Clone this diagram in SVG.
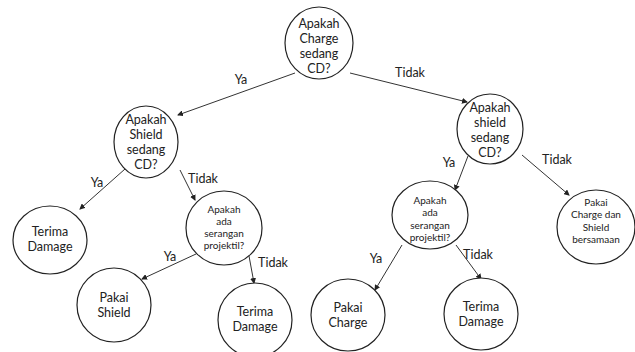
<svg xmlns="http://www.w3.org/2000/svg" width="635" height="352" viewBox="0 0 635 352">
<style>
.n{fill:#fff;stroke:#222;stroke-width:1.2}
.t{font-family:Lato,"Liberation Sans",Arial,sans-serif;font-size:12.5px;fill:#222;text-anchor:middle}
.s{font-family:Lato,"Liberation Sans",Arial,sans-serif;font-size:10px;fill:#222;text-anchor:middle}
.l{font-family:Lato,"Liberation Sans",Arial,sans-serif;font-size:12.5px;fill:#222;text-anchor:middle}
.c{stroke:#333;stroke-width:1;fill:none;marker-end:url(#a)}
</style>
<defs>
<marker id="a" markerWidth="6" markerHeight="6" refX="5" refY="3" orient="auto" markerUnits="userSpaceOnUse">
<path d="M0,0 L6,3 L0,6 z" fill="#222"/>
</marker>
</defs>
<rect width="635" height="352" fill="#fff"/>
<g id="connectors">
<line class="c" x1="295" y1="73" x2="178" y2="115"/>
<line class="c" x1="350" y1="73" x2="467" y2="102"/>
<line class="c" x1="125" y1="169" x2="80" y2="209"/>
<line class="c" x1="180" y1="170" x2="195" y2="200"/>
<line class="c" x1="196" y1="254" x2="142" y2="279"/>
<line class="c" x1="249" y1="256" x2="254" y2="283"/>
<line class="c" x1="468" y1="156" x2="455" y2="190"/>
<line class="c" x1="522" y1="155" x2="569" y2="195"/>
<line class="c" x1="402" y1="245" x2="375" y2="290"/>
<line class="c" x1="456" y1="245" x2="481" y2="279"/>
<text class="l" x="241" y="84">Ya</text>
<text class="l" x="410" y="77">Tidak</text>
<text class="l" x="97" y="187">Ya</text>
<text class="l" x="203" y="183">Tidak</text>
<text class="l" x="170" y="261">Ya</text>
<text class="l" x="273" y="267">Tidak</text>
<text class="l" x="449" y="167">Ya</text>
<text class="l" x="557" y="164">Tidak</text>
<text class="l" x="376" y="263">Ya</text>
<text class="l" x="478" y="259">Tidak</text>
</g>
<g id="root">
<ellipse class="n" cx="319" cy="43" rx="34" ry="36"/>
<text class="t" x="319" y="28">Apakah</text>
<text class="t" x="319" y="43">Charge</text>
<text class="t" x="319" y="58">sedang</text>
<text class="t" x="319" y="73">CD?</text>
</g>
<g id="shieldL">
<ellipse class="n" cx="146" cy="142" rx="32" ry="36"/>
<text class="t" x="146" y="124">Apakah</text>
<text class="t" x="146" y="139">Shield</text>
<text class="t" x="146" y="154">sedang</text>
<text class="t" x="146" y="169">CD?</text>
</g>
<g id="terimaL">
<ellipse class="n" cx="50" cy="240" rx="37" ry="34"/>
<text class="t" x="50" y="236">Terima</text>
<text class="t" x="50" y="251">Damage</text>
</g>
<g id="projL">
<ellipse class="n" cx="224" cy="228" rx="38" ry="37"/>
<text class="s" x="224" y="213">Apakah</text>
<text class="s" x="224" y="225">ada</text>
<text class="s" x="224" y="237">serangan</text>
<text class="s" x="224" y="249">projektil?</text>
</g>
<g id="pakaiShield">
<ellipse class="n" cx="114" cy="305" rx="37" ry="37"/>
<text class="t" x="114" y="302">Pakai</text>
<text class="t" x="114" y="317">Shield</text>
</g>
<g id="terimaM">
<ellipse class="n" cx="255" cy="320" rx="37" ry="37"/>
<text class="t" x="255" y="316">Terima</text>
<text class="t" x="255" y="331">Damage</text>
</g>
<g id="shieldR">
<ellipse class="n" cx="490" cy="129" rx="33" ry="35"/>
<text class="t" x="490" y="112">Apakah</text>
<text class="t" x="490" y="127">shield</text>
<text class="t" x="490" y="142">sedang</text>
<text class="t" x="490" y="157">CD?</text>
</g>
<g id="projR">
<ellipse class="n" cx="430" cy="215" rx="38" ry="34"/>
<text class="s" x="430" y="204">Apakah</text>
<text class="s" x="430" y="216">ada</text>
<text class="s" x="430" y="229">serangan</text>
<text class="s" x="430" y="241">projektil?</text>
</g>
<g id="pakaiBersamaan">
<ellipse class="n" cx="596" cy="227" rx="39" ry="37"/>
<text class="s" x="596" y="206">Pakai</text>
<text class="s" x="596" y="218">Charge dan</text>
<text class="s" x="596" y="231">Shield</text>
<text class="s" x="596" y="243">bersamaan</text>
</g>
<g id="pakaiCharge">
<ellipse class="n" cx="348" cy="315" rx="37" ry="36"/>
<text class="t" x="348" y="312">Pakai</text>
<text class="t" x="348" y="327">Charge</text>
</g>
<g id="terimaR">
<ellipse class="n" cx="481" cy="314" rx="37" ry="36"/>
<text class="t" x="481" y="311">Terima</text>
<text class="t" x="481" y="326">Damage</text>
</g>
</svg>
